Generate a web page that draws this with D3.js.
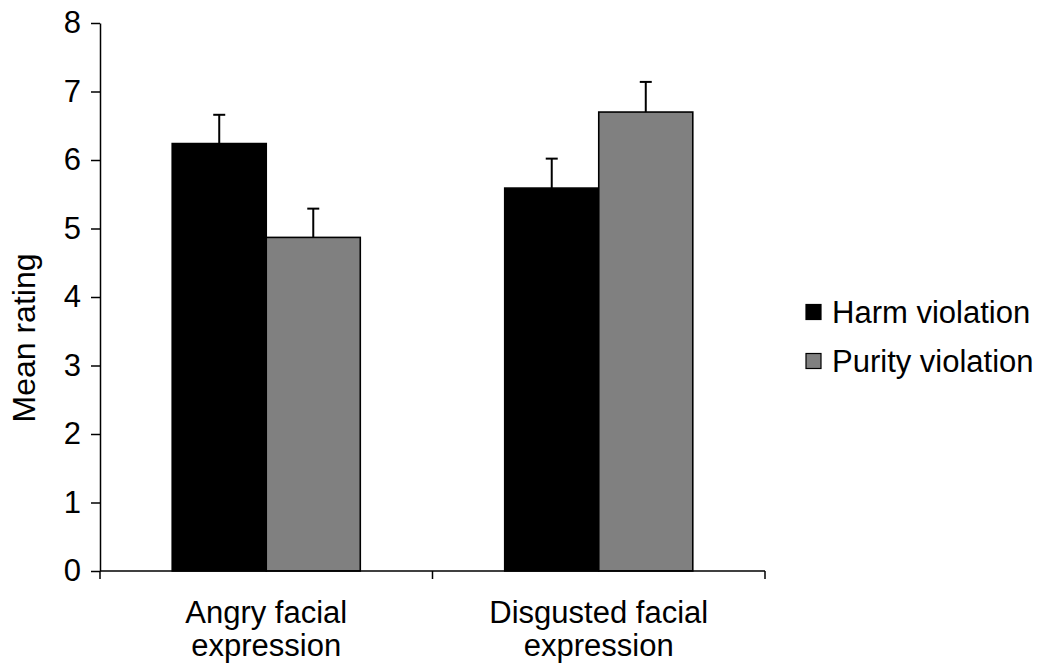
<!DOCTYPE html>
<html>
<head>
<meta charset="utf-8">
<script src="https://cdn.jsdelivr.net/npm/d3@7"></script>
<style>
  html, body { margin: 0; padding: 0; background: #fff; }
  text { font-family: "Liberation Sans", Arial, sans-serif; fill: #000; }
</style>
</head>
<body>
<svg id="chart" width="1039" height="664"></svg>
<script>
// Mean ratings by facial expression and violation type
const categories = [["Angry facial", "expression"], ["Disgusted facial", "expression"]];
const categoryKeys = ["angry", "disgusted"];
const seriesNames = ["Harm violation", "Purity violation"];
const harmMeans = [6.24, 5.59];
const purityMeans = [4.87, 6.70];
const harmErrors = [0.42, 0.43];
const purityErrors = [0.42, 0.44];
const yTicks = [0, 1, 2, 3, 4, 5, 6, 7, 8];
const yTitle = "Mean rating";

const seriesColors = ["#000000", "#808080"];
const means = [harmMeans, purityMeans];
const errors = [harmErrors, purityErrors];
const fontSize = 31;

const svg = d3.select("#chart");
const plot = { left: 100, right: 765, top: 23, bottom: 571 };

const y = d3.scaleLinear().domain([0, 8]).range([plot.bottom, plot.top]);
const x0 = d3.scaleBand().domain(categoryKeys).range([plot.left, plot.right]).padding(0);
const x1 = d3.scaleBand().domain(d3.range(seriesNames.length))
  .range([0, x0.bandwidth()]).paddingInner(0).paddingOuter(0.768);

// Bars with upper error bars
const groups = svg.append("g").selectAll("g")
  .data(categoryKeys)
  .join("g")
  .attr("transform", d => `translate(${x0(d)},0)`);

groups.each(function(cat, ci) {
  const g = d3.select(this);
  seriesNames.forEach((s, si) => {
    const v = means[si][ci];
    const e = errors[si][ci];
    const bx = x1(si);
    const cx = bx + x1.bandwidth() / 2;
    g.append("rect")
      .attr("x", bx)
      .attr("y", y(v))
      .attr("width", x1.bandwidth())
      .attr("height", y(0) - y(v))
      .attr("fill", seriesColors[si])
      .attr("stroke", "#000")
      .attr("stroke-width", 1.6);
    g.append("line")
      .attr("x1", cx).attr("x2", cx)
      .attr("y1", y(v)).attr("y2", y(v + e))
      .attr("stroke", "#000").attr("stroke-width", 2);
    g.append("line")
      .attr("x1", cx - 6).attr("x2", cx + 6)
      .attr("y1", y(v + e)).attr("y2", y(v + e))
      .attr("stroke", "#000").attr("stroke-width", 2);
  });
});

// Y axis
const yAxis = d3.axisLeft(y).tickValues(yTicks).tickFormat(d3.format("d"))
  .tickSize(9).tickPadding(10).tickSizeOuter(0);
const yg = svg.append("g").attr("transform", `translate(${plot.left},0)`).call(yAxis);
yg.select(".domain").attr("stroke", "#000").attr("stroke-width", 1.5);
yg.selectAll(".tick line").attr("stroke", "#000").attr("stroke-width", 1.5);
yg.selectAll(".tick text").attr("font-size", fontSize)
  .attr("font-family", "Liberation Sans, Arial, sans-serif").attr("fill", "#000");

// X axis line and category boundary ticks
svg.append("line")
  .attr("x1", plot.left).attr("x2", plot.right)
  .attr("y1", y(0)).attr("y2", y(0))
  .attr("stroke", "#000").attr("stroke-width", 1.5);
const boundaries = categoryKeys.map(k => x0(k))
  .concat([x0(categoryKeys[categoryKeys.length - 1]) + x0.bandwidth()]);
svg.append("g").selectAll("line")
  .data(boundaries)
  .join("line")
  .attr("x1", d => d).attr("x2", d => d)
  .attr("y1", y(0)).attr("y2", y(0) + 8)
  .attr("stroke", "#000").attr("stroke-width", 1.5);

// Category labels (two lines each)
const catLabels = svg.append("g").selectAll("text")
  .data(categories)
  .join("text")
  .attr("text-anchor", "middle")
  .attr("font-size", fontSize)
  .attr("x", (d, i) => x0(categoryKeys[i]) + x0.bandwidth() / 2)
  .attr("y", 623);
catLabels.selectAll("tspan")
  .data(d => d)
  .join("tspan")
  .attr("x", function() { return d3.select(this.parentNode).attr("x"); })
  .attr("dy", (d, i) => i === 0 ? 0 : 33)
  .text(d => d);

// Y axis title
svg.append("text")
  .attr("transform", `translate(35,338) rotate(-90)`)
  .attr("text-anchor", "middle")
  .attr("font-size", 32)
  .text(yTitle);

// Legend
const legend = svg.append("g").selectAll("g")
  .data(seriesNames)
  .join("g")
  .attr("transform", (d, i) => `translate(806,${312 + i * 49})`);
legend.append("rect")
  .attr("x", 0).attr("y", -7.5)
  .attr("width", 15).attr("height", 15)
  .attr("fill", (d, i) => seriesColors[i])
  .attr("stroke", "#000").attr("stroke-width", 1.2);
legend.append("text")
  .attr("x", 26).attr("y", 0)
  .attr("dy", "0.35em")
  .attr("font-size", fontSize)
  .text(d => d);
</script>
</body>
</html>
